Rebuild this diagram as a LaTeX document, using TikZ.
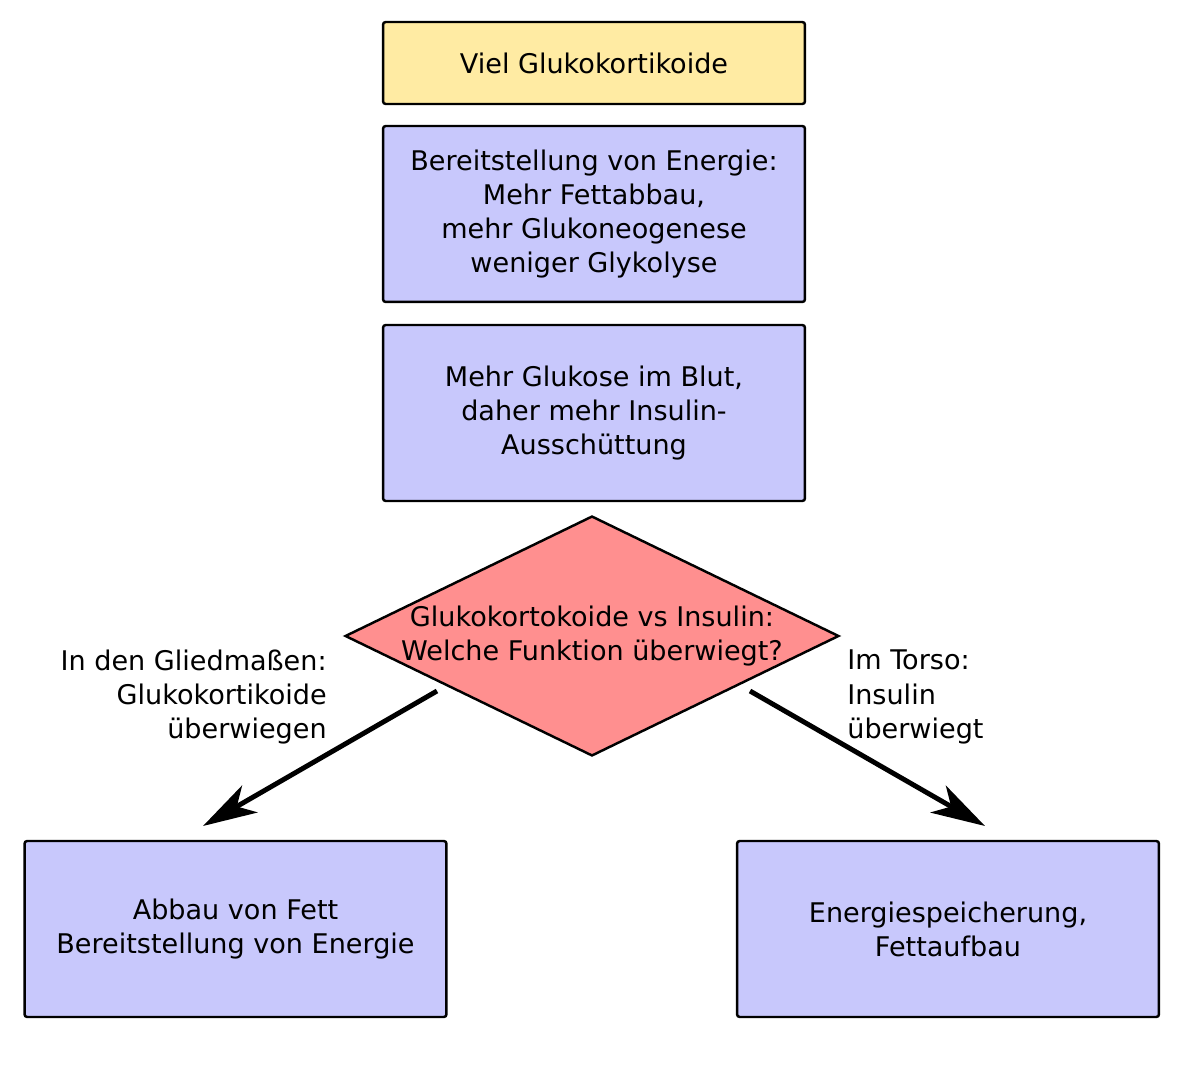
\documentclass[tikz,border=0pt]{standalone}
\usepackage{fontspec}
\setmainfont{DejaVu Sans}
\usetikzlibrary{arrows.meta, positioning, shapes.geometric}

\definecolor{boxblue}{HTML}{C8C8FC}
\definecolor{boxyellow}{HTML}{FFEBA3}
\definecolor{decred}{HTML}{FF8F8F}

\begin{document}
\begin{tikzpicture}[
    x=0.02cm, y=-0.02cm,
    >=Stealth,
    font=\fontsize{15.4}{19.4}\selectfont,
    step box/.style={
        draw,
        line width=1.4pt,
        rounded corners=1.5pt,
        fill=boxblue,
        minimum width=8.44cm,
        minimum height=3.52cm,
        align=center
    },
    start box/.style={step box, fill=boxyellow, minimum height=1.64cm},
    decision/.style={
        draw,
        diamond,
        line width=1.4pt,
        fill=decred,
        aspect=2.06,
        minimum width=9.88cm,
        minimum height=4.8cm,
        inner sep=-3pt,
        align=center
    },
    branch/.style={->, line width=2.8pt,
        arrows={-Stealth[length=1.08cm, width=0.62cm, inset=0.3cm]}},
    side label/.style={inner sep=0pt}
]

% Fixed picture size
\useasboundingbox (0,0) rectangle (1194,1087);

% Main column
\node[start box] (gluco) at (594,63) {Viel Glukokortikoide};
\node[step box] (energy) at (594,214) {Bereitstellung von Energie:\\Mehr Fettabbau,\\mehr Glukoneogenese\\weniger Glykolyse};
\node[step box] (insulin) at (594,413) {Mehr Glukose im Blut,\\daher mehr Insulin-\\Ausschüttung};

% Decision
\node[decision] (dec) at (592,636) {Glukokortokoide vs Insulin:\\Welche Funktion überwiegt?};

% Outcomes
\node[step box] (limbs) at (235.5,929) {Abbau von Fett\\Bereitstellung von Energie};
\node[step box] (torso) at (948,929) {Energiespeicherung,\\Fettaufbau};

% Branch arrows
\coordinate (l from) at (437,691);
\coordinate (l to) at (203,826);
\coordinate (r from) at (750,691);
\coordinate (r to) at (985,826);
\draw[branch] (l from) -- (l to);
\draw[branch] (r from) -- (r to);

% Branch labels
\node[side label, anchor=east, align=right] (l text) at (327,697) {In den Gliedmaßen:\\Glukokortikoide\\überwiegen};
\node[side label, anchor=west, align=left] (r text) at (847,697) {Im Torso:\\Insulin\\überwiegt};

\end{tikzpicture}
\end{document}
